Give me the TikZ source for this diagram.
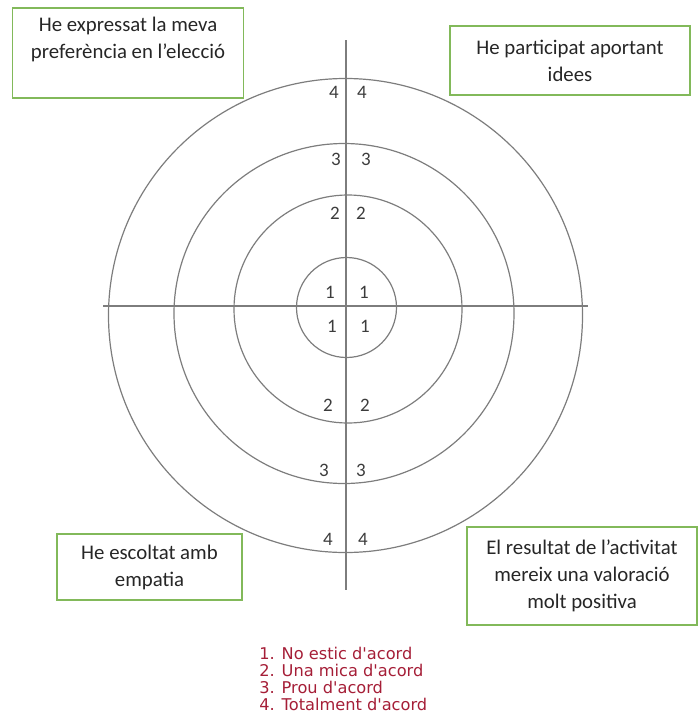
\documentclass[tikz,border=0pt]{standalone}
\usepackage{fontspec}
\setmainfont{Carlito}
\newfontfamily\legendfont{DejaVu Sans}
\definecolor{ringgray}{RGB}{125,125,125}
\definecolor{numgray}{RGB}{60,60,60}
\definecolor{cardgreen}{RGB}{130,185,90}
\definecolor{legendred}{RGB}{165,30,55}

\begin{document}
\begin{tikzpicture}[
        x=0.5pt, y=-0.5pt, % 1 unit = 1 px of the reference
        ring/.style={circle, draw=ringgray, line width=0.6pt, inner sep=0pt}, % Cercles
        axis/.style={draw=ringgray, line width=0.6pt},
        num/.style={font=\fontsize{9.5}{10}\selectfont, text=numgray, inner sep=0pt},
        card/.style={rectangle, draw=cardgreen, line width=0.8pt, align=center, inner sep=0pt,
                font=\fontsize{10.4}{13.5}\selectfont, text=black!85}, % Caixes de text
    ]

    \useasboundingbox (0,0) rectangle (699,723);

    % Cercles
    \node[ring, minimum size=474*0.5pt] (r4) at (345.5,315.5) {};
    \node[ring, minimum size=340*0.5pt] (r3) at (344,313.5) {};
    \node[ring, minimum size=228*0.5pt] (r2) at (348,309) {};
    \node[ring, minimum size=100*0.5pt] (r1) at (346.5,307.5) {};

    % Eixos
    \coordinate (west) at (103,306);
    \coordinate (east) at (588,306);
    \coordinate (north) at (346,40);
    \coordinate (south) at (346,590);
    \draw[axis] (west) -- (east);
    \draw[axis] (north) -- (south);

    % Valors
    \foreach \n/\v/\xl/\xr/\y in {a4/4/334/362/92, a3/3/336/366/159, a2/2/335/361/213, a1/1/330/364/292,
            b1/1/332/365/326, b2/2/328/365/405, b3/3/324/361/470, b4/4/328/363/539} {
        \node[num] (\n l) at (\xl,\y) {\v};
        \node[num] (\n r) at (\xr,\y) {\v};
    }

    % Caixes
    \node[card, minimum width=231*0.5pt, minimum height=90*0.5pt, text depth=15pt] (pref) at (128,53)
        {He expressat la meva\\preferència en l’elecció};
    \node[card, minimum width=240*0.5pt, minimum height=69*0.5pt] (idees) at (570,60.5)
        {He participat aportant\\idees};
    \node[card, minimum width=185*0.5pt, minimum height=66*0.5pt] (empatia) at (149.5,567)
        {He escoltat amb\\empatia};
    \node[card, minimum width=230*0.5pt, minimum height=98*0.5pt] (valor) at (582,576)
        {El resultat de l’activitat\\mereix una valoració\\molt positiva};

    % Llegenda
    \node[anchor=north west, align=left, inner sep=0pt, text=legendred,
        font=\legendfont\fontsize{8.1}{8.5}\selectfont] (llegenda) at (259,647)
        {1. No estic d'acord\\2. Una mica d'acord\\3. Prou d'acord\\4. Totalment d'acord};
\end{tikzpicture}
\end{document}
